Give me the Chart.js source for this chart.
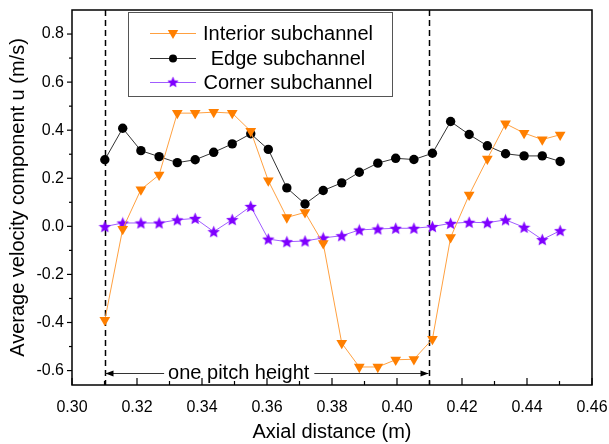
<!DOCTYPE html>
<html>
<head>
<meta charset="utf-8">
<script src="https://cdn.jsdelivr.net/npm/chart.js@4.4.1/dist/chart.umd.min.js"></script>
<style>
  html, body { margin: 0; padding: 0; background: #fff; }
</style>
</head>
<body>
<canvas id="chart" width="609" height="444"></canvas>
<script>
// Axial positions (m)
const axialDistance = [0.3101, 0.3156, 0.3212, 0.3268, 0.3324, 0.3379, 0.3436, 0.3493, 0.3550,
  0.3604, 0.3661, 0.3717, 0.3773, 0.3830, 0.3884, 0.3941, 0.3996, 0.4052, 0.4109, 0.4165,
  0.4222, 0.4278, 0.4334, 0.4391, 0.4447, 0.4502];

// Average velocity component u (m/s) per subchannel
const interiorU = [-0.39, -0.011, 0.153, 0.214, 0.471, 0.471, 0.475, 0.471, 0.396, 0.19,
  0.037, 0.058, -0.071, -0.486, -0.585, -0.585, -0.555, -0.553, -0.469, -0.046,
  0.131, 0.281, 0.427, 0.388, 0.361, 0.381];
const edgeU = [0.277, 0.408, 0.315, 0.290, 0.265, 0.277, 0.308, 0.343, 0.385, 0.320,
  0.160, 0.093, 0.149, 0.181, 0.225, 0.263, 0.283, 0.278, 0.304, 0.436,
  0.382, 0.335, 0.302, 0.293, 0.293, 0.270];
const cornerU = [-0.001, 0.014, 0.014, 0.014, 0.027, 0.033, -0.022, 0.028, 0.083, -0.053,
  -0.064, -0.061, -0.048, -0.039, -0.015, -0.011, -0.008, -0.008, -0.001, 0.0125,
  0.017, 0.015, 0.027, -0.004, -0.055, -0.018];

const seriesNames = ["Interior subchannel", "Edge subchannel", "Corner subchannel"];

// Tick values and labels
const xTickValues = [0.30, 0.32, 0.34, 0.36, 0.38, 0.40, 0.42, 0.44, 0.46];
const xTickLabels = ["0.30", "0.32", "0.34", "0.36", "0.38", "0.40", "0.42", "0.44", "0.46"];
const yTickValues = [-0.6, -0.4, -0.2, 0.0, 0.2, 0.4, 0.6, 0.8];
const yTickLabels = ["-0.6", "-0.4", "-0.2", "0.0", "0.2", "0.4", "0.6", "0.8"];

// One pitch (dashed lines + arrow)
const pitchStart = 0.31;
const pitchEnd = 0.41;
const pitchArrowY = -0.61;
const pitchLabelX = 0.3513;
const pitchLabel = "one pitch height";

const FONT = 'Arial, "Liberation Sans", sans-serif';
const ORANGE = "#ff7f00";
const ORANGE_LINE = "#ffa040";
const PURPLE = "#7f00ff";
const PURPLE_LINE = "#a05cff";

// Filled five-point star used as a marker
function makeStar(size, color) {
  const c = document.createElement("canvas");
  c.width = size;
  c.height = size;
  const g = c.getContext("2d");
  const R = size / 2, r = R * 0.45;
  g.beginPath();
  for (let i = 0; i < 10; i++) {
    const rad = i % 2 === 0 ? R : r;
    const a = -Math.PI / 2 + i * Math.PI / 5;
    g.lineTo(size / 2 + rad * Math.cos(a), size / 2 + 0.6 + rad * Math.sin(a));
  }
  g.closePath();
  g.fillStyle = color;
  g.fill();
  return c;
}
const starImg = makeStar(13, PURPLE);

function toPoints(ys) {
  return axialDistance.map((x, i) => ({ x: x, y: ys[i] }));
}

function drawTriangleDown(ctx, x, y, r, color) {
  ctx.beginPath();
  ctx.moveTo(x, y + r);
  ctx.lineTo(x - r * 0.866, y - r / 2);
  ctx.lineTo(x + r * 0.866, y - r / 2);
  ctx.closePath();
  ctx.fillStyle = color;
  ctx.fill();
}

// Frame, ticks, pitch lines, arrow annotation and legend box
const decorations = {
  id: "decorations",
  beforeDatasetsDraw(chart) {
    const { ctx, chartArea: a, scales: { x } } = chart;
    ctx.save();
    ctx.strokeStyle = "#000";
    ctx.lineWidth = 1.5;
    ctx.setLineDash([6, 4]);
    [pitchStart, pitchEnd].forEach(v => {
      const px = Math.round(x.getPixelForValue(v)) + 0.5;
      ctx.beginPath();
      ctx.moveTo(px, a.top);
      ctx.lineTo(px, a.bottom);
      ctx.stroke();
    });
    ctx.restore();
  },
  afterDatasetsDraw(chart) {
    const { ctx, chartArea: a, scales: { x, y } } = chart;
    ctx.save();

    // frame
    ctx.strokeStyle = "#000";
    ctx.lineWidth = 1.5;
    ctx.strokeRect(a.left, a.top, a.right - a.left, a.bottom - a.top);

    // x ticks (inward)
    ctx.lineWidth = 1.2;
    xTickValues.forEach((v, i) => {
      const px = x.getPixelForValue(v);
      ctx.beginPath();
      ctx.moveTo(px, a.bottom);
      ctx.lineTo(px, a.bottom - 7);
      ctx.stroke();
      if (i < xTickValues.length - 1) {
        const mx = x.getPixelForValue((v + xTickValues[i + 1]) / 2);
        ctx.beginPath();
        ctx.moveTo(mx, a.bottom);
        ctx.lineTo(mx, a.bottom - 4);
        ctx.stroke();
      }
    });
    // y ticks (outward)
    yTickValues.forEach((v, i) => {
      const py = y.getPixelForValue(v);
      ctx.beginPath();
      ctx.moveTo(a.left, py);
      ctx.lineTo(a.left - 5, py);
      ctx.stroke();
      const next = i < yTickValues.length - 1 ? yTickValues[i + 1] : v + 0.2;
      const mv = (v + next) / 2;
      if (mv < y.max) {
        const my = y.getPixelForValue(mv);
        ctx.beginPath();
        ctx.moveTo(a.left, my);
        ctx.lineTo(a.left - 3, my);
        ctx.stroke();
      }
    });

    // one pitch height arrow
    const ay = Math.round(y.getPixelForValue(pitchArrowY)) + 0.5;
    const x0 = x.getPixelForValue(pitchStart) + 1;
    const x1 = x.getPixelForValue(pitchEnd) - 1;
    const tx = x.getPixelForValue(pitchLabelX);
    ctx.font = "20px " + FONT;
    const tw = ctx.measureText(pitchLabel).width;
    ctx.strokeStyle = "#333";
    ctx.lineWidth = 1;
    ctx.beginPath();
    ctx.moveTo(x0, ay); ctx.lineTo(tx - tw / 2 - 4, ay);
    ctx.moveTo(tx + tw / 2 + 5, ay); ctx.lineTo(x1, ay);
    ctx.stroke();
    ctx.fillStyle = "#000";
    ctx.beginPath();
    ctx.moveTo(x0, ay); ctx.lineTo(x0 + 8, ay - 3); ctx.lineTo(x0 + 8, ay + 3); ctx.closePath();
    ctx.moveTo(x1, ay); ctx.lineTo(x1 - 8, ay - 3); ctx.lineTo(x1 - 8, ay + 3); ctx.closePath();
    ctx.fill();
    ctx.textAlign = "center";
    ctx.textBaseline = "middle";
    ctx.fillText(pitchLabel, tx, ay);

    // legend
    const lx = 128.5, ly = 12.5, lw = 264, lh = 84;
    ctx.fillStyle = "#fff";
    ctx.fillRect(lx, ly, lw, lh);
    ctx.strokeStyle = "#555";
    ctx.lineWidth = 1;
    ctx.strokeRect(lx, ly, lw, lh);
    const rows = [33, 58, 82];
    const lineColors = [ORANGE_LINE, "#333", PURPLE_LINE];
    rows.forEach((ry, i) => {
      ctx.strokeStyle = lineColors[i];
      ctx.lineWidth = 1;
      ctx.beginPath();
      ctx.moveTo(150, ry + 0.5);
      ctx.lineTo(196, ry + 0.5);
      ctx.stroke();
      if (i === 0) {
        drawTriangleDown(ctx, 173, ry, 6, ORANGE);
      } else if (i === 1) {
        ctx.fillStyle = "#000";
        ctx.beginPath();
        ctx.arc(173, ry + 0.5, 4, 0, Math.PI * 2);
        ctx.fill();
      } else {
        ctx.drawImage(starImg, 173 - 6, ry - 6, 12, 12);
      }
      ctx.fillStyle = "#000";
      ctx.font = "20px " + FONT;
      ctx.textAlign = "center";
      ctx.textBaseline = "middle";
      ctx.fillText(seriesNames[i], 288, ry + 1);
    });

    ctx.restore();
  }
};

new Chart(document.getElementById("chart"), {
  type: "scatter",
  data: {
    datasets: [
      {
        label: seriesNames[0],
        data: toPoints(interiorU),
        showLine: true,
        borderColor: ORANGE_LINE,
        borderWidth: 1,
        pointStyle: "triangle",
        rotation: 180,
        pointRadius: 6.2,
        pointBackgroundColor: ORANGE,
        pointBorderColor: ORANGE,
        pointBorderWidth: 0
      },
      {
        label: seriesNames[1],
        data: toPoints(edgeU),
        showLine: true,
        borderColor: "#333",
        borderWidth: 1,
        pointStyle: "circle",
        pointRadius: 4.7,
        pointBackgroundColor: "#000",
        pointBorderColor: "#000",
        pointBorderWidth: 0
      },
      {
        label: seriesNames[2],
        data: toPoints(cornerU),
        showLine: true,
        borderColor: PURPLE_LINE,
        borderWidth: 1,
        pointStyle: starImg,
        pointRadius: 5
      }
    ]
  },
  options: {
    responsive: false,
    devicePixelRatio: 1,
    animation: false,
    layout: { padding: { left: 0, top: 10, right: 17, bottom: 0 } },
    plugins: {
      legend: { display: false },
      tooltip: { enabled: false }
    },
    scales: {
      x: {
        type: "linear",
        min: 0.30,
        max: 0.46,
        afterBuildTicks: s => { s.ticks = xTickValues.map(v => ({ value: v })); },
        afterFit: s => { s.height = 59; s.paddingLeft = 0; s.paddingRight = 0; },
        grid: { display: false, drawTicks: false },
        border: { display: false },
        ticks: {
          padding: 13,
          color: "#000",
          font: { family: FONT, size: 16 },
          maxRotation: 0,
          callback: (v, i) => xTickLabels[i]
        },
        title: {
          display: true,
          text: "Axial distance (m)",
          color: "#000",
          font: { family: FONT, size: 20 },
          padding: { top: 0, bottom: 0 }
        }
      },
      y: {
        min: -0.66,
        max: 0.9,
        afterBuildTicks: s => { s.ticks = yTickValues.map(v => ({ value: v })); },
        afterFit: s => { s.width = 72; s.paddingTop = 0; s.paddingBottom = 0; },
        grid: { display: false, drawTicks: false },
        border: { display: false },
        ticks: {
          padding: 8,
          color: "#000",
          font: { family: FONT, size: 16 },
          callback: (v, i) => yTickLabels[i]
        },
        title: {
          display: true,
          text: "Average velocity component u (m/s)",
          color: "#000",
          font: { family: FONT, size: 20 },
          padding: { top: 6, bottom: 0 }
        }
      }
    }
  },
  plugins: [decorations]
});
</script>
</body>
</html>
